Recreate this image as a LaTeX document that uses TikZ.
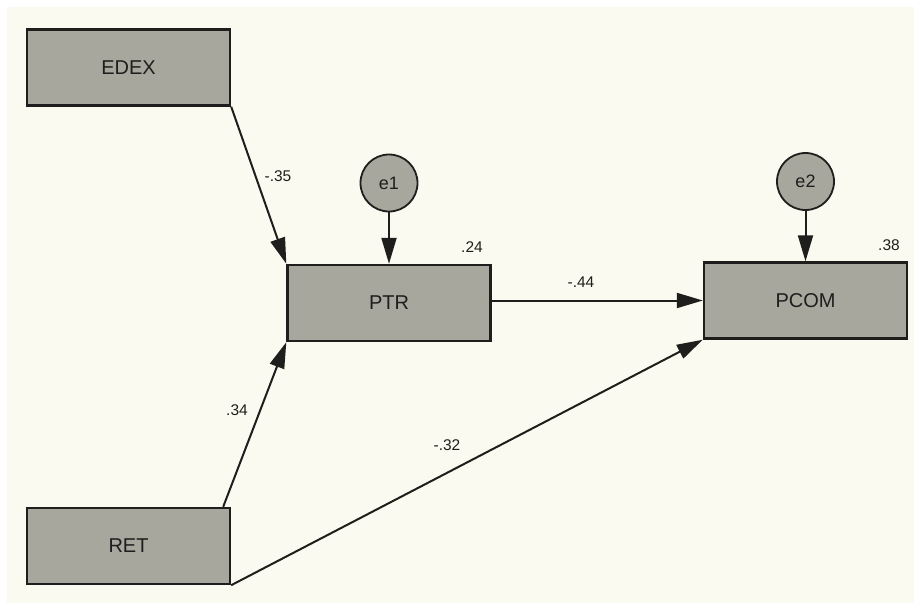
\documentclass[tikz,border=0pt]{standalone}
\usepackage{fontspec}
\setmainfont{Liberation Sans}
\usetikzlibrary{arrows.meta, positioning}
\definecolor{boxgray}{RGB}{168,167,158}
\definecolor{paper}{RGB}{250,250,240}
\definecolor{ink}{RGB}{30,30,28}
\tikzstyle{observed} = [rectangle, minimum width=203pt, minimum height=76pt, align=center, draw=ink, line width=2.4pt, fill=boxgray, text=ink, font=\fontsize{20}{20}\selectfont]
\tikzstyle{error} = [circle, minimum size=57pt, inner sep=0pt, draw=ink, line width=1.8pt, fill=boxgray, text=ink, font=\fontsize{18}{18}\selectfont]
\tikzstyle{coef} = [text=ink, font=\fontsize{15.5}{15.5}\selectfont]
\tikzstyle{arrow} = [line width=2pt, draw=ink, -{Triangle[length=26pt, width=15pt]}]

\begin{document}
\begin{tikzpicture}[x=1pt, y=-1pt]
\useasboundingbox (0,0) rectangle (914,603);
\fill[white] (0,0) rectangle (914,603);
\fill[paper] (7,7) rectangle (914,603);

\node (edex) [observed] at (128.5,67.5) {EDEX};
\node (ptr) [observed] at (389,303) {PTR};
\node (pcom) [observed] at (805.5,300.5) {PCOM};
\node (ret) [observed] at (128.5,546) {RET};

\node (e1) [error, above of=ptr, node distance=120pt] {e1};
\node (e2) [error, above of=pcom, node distance=119pt] {e2};

\draw[arrow] (edex.south east) -- (ptr.north west);
\draw[arrow] ([xshift=-8pt]ret.north east) -- (ptr.south west);
\draw[arrow] (ret.south east) -- (pcom.south west);
\draw[arrow] (ptr.east |- pcom.west) -- (pcom.west);
\draw[arrow] (e1.south) -- (e1.south |- ptr.north);
\draw[arrow] (e2.south) -- (e2.south |- pcom.north);

\node (c_edex) [coef] at (278,176) {-.35};
\node (c_ret) [coef] at (237,410) {.34};
\node (c_retpcom) [coef] at (447,445) {-.32};
\node (c_ptr) [coef] at (581,282) {-.44};
\node (r_ptr) [coef] at (472,247) {.24};
\node (r_pcom) [coef] at (889,245) {.38};
\end{tikzpicture}
\end{document}
